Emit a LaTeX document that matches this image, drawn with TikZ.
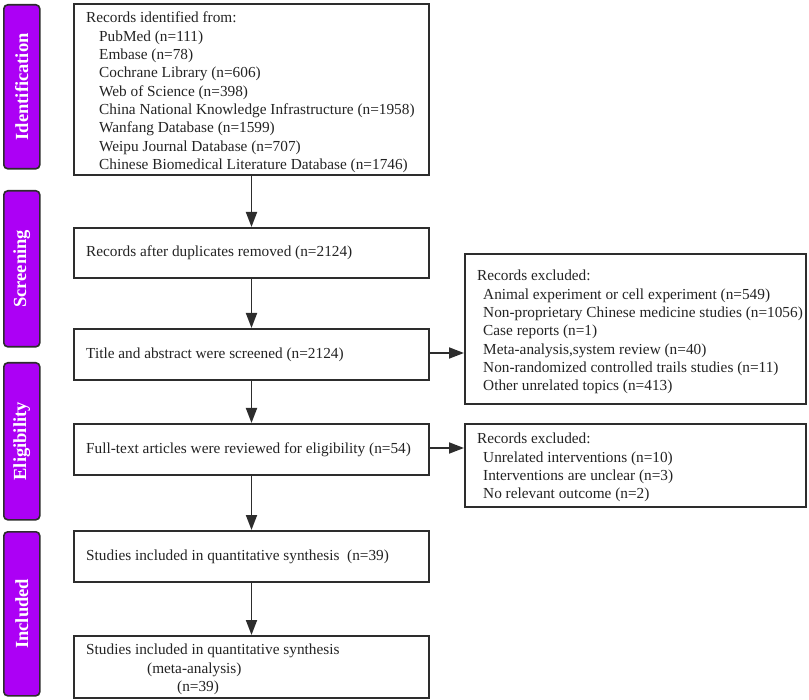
\documentclass[tikz,border=0pt]{standalone}
\usepackage{fontspec}
\setmainfont{Liberation Serif}
\usetikzlibrary{arrows.meta}
\definecolor{sidefill}{RGB}{172,0,245}
\definecolor{ln}{RGB}{45,45,45}
\definecolor{txtc}{RGB}{35,35,35}
\begin{document}
\begin{tikzpicture}[x=1pt,y=-1pt,
 box/.style={draw=ln,line width=2pt,anchor=north west,inner sep=0pt},
 sidebox/.style={draw=ln,line width=1.6pt,fill=sidefill,rounded corners=4pt,anchor=north west,inner sep=0pt,minimum width=36pt},
 sidelabel/.style={text=white,font=\fontsize{18.5}{18.5}\selectfont\bfseries,rotate=90},
 txt/.style={anchor=north west,inner sep=0pt,align=left,font=\fontsize{15.3}{18.3}\selectfont,text=txtc},
 line/.style={anchor=west,inner sep=0pt,font=\fontsize{15.3}{18.3}\selectfont,text=txtc},
 arr/.style={draw=ln,line width=1.8pt,-{Triangle[length=15pt,width=11pt]}}]
\useasboundingbox (0,0) rectangle (809,700);

% side bars
\node[sidebox,minimum height=164pt] (s1) at (3,4) {};
\node[sidelabel] (l1) at (s1.center) {Identification};
\node[sidebox,minimum height=156pt] (s2) at (3,190) {};
\node[sidelabel] (l2) at (s2.center) {Screening};
\node[sidebox,minimum height=157pt] (s3) at (3,362) {};
\node[sidelabel] (l3) at (s3.center) {Eligibility};
\node[sidebox,minimum height=164pt] (s4) at (3,531) {};
\node[sidelabel] (l4) at (s4.center) {Included};

% main boxes
\node[box,minimum width=355pt,minimum height=171pt] (b1) at (73,3) {};
\node[txt] (t1) at (86,12) {Records identified from:\\
\hspace*{13pt}PubMed (n=111)\\
\hspace*{13pt}Embase (n=78)\\
\hspace*{13pt}Cochrane Library (n=606)\\
\hspace*{13pt}Web of Science (n=398)\\
\hspace*{13pt}China National Knowledge Infrastructure (n=1958)\\
\hspace*{13pt}Wanfang Database (n=1599)\\
\hspace*{13pt}Weipu Journal Database (n=707)\\
\hspace*{13pt}Chinese Biomedical Literature Database (n=1746)};

\node[box,minimum width=355pt,minimum height=50pt] (b2) at (73,227) {};
\node[line] (t2) at ([xshift=13pt]b2.west) {Records after duplicates removed (n=2124)};

\node[box,minimum width=355pt,minimum height=51pt] (b3) at (73,328) {};
\node[line] (t3) at ([xshift=13pt]b3.west) {Title and abstract were screened (n=2124)};

\node[box,minimum width=355pt,minimum height=51pt] (b4) at (73,423) {};
\node[line] (t4) at ([xshift=13pt]b4.west) {Full-text articles were reviewed for eligibility (n=54)};

\node[box,minimum width=355pt,minimum height=51pt] (b5) at (73,530) {};
\node[line] (t5) at ([xshift=13pt]b5.west) {Studies included in quantitative synthesis\ \ (n=39)};

\node[box,minimum width=355pt,minimum height=62pt] (b6) at (73,635) {};
\node[txt] (t6) at (86,644) {Studies included in quantitative synthesis\\
\hspace*{61pt}(meta-analysis)\\
\hspace*{91pt}(n=39)};

% excluded boxes
\node[box,minimum width=341pt,minimum height=150pt] (e1) at (464,253) {};
\node[txt] (te1) at (477,270) {Records excluded:\\
\hspace*{6pt}Animal experiment or cell experiment (n=549)\\
\hspace*{6pt}Non-proprietary Chinese medicine studies (n=1056)\\
\hspace*{6pt}Case reports (n=1)\\
\hspace*{6pt}Meta-analysis,system review (n=40)\\
\hspace*{6pt}Non-randomized controlled trails studies (n=11)\\
\hspace*{6pt}Other unrelated topics (n=413)};

\node[box,minimum width=341pt,minimum height=83pt] (e2) at (464,423) {};
\node[txt] (te2) at (477,433) {Records excluded:\\
\hspace*{6pt}Unrelated interventions (n=10)\\
\hspace*{6pt}Interventions are unclear (n=3)\\
\hspace*{6pt}No relevant outcome (n=2)};

% arrows
\draw[arr] (b1) -- (b2);
\draw[arr] (b2) -- (b3);
\draw[arr] (b3) -- (b4);
\draw[arr] (b4) -- (b5);
\draw[arr] (b5) -- (b6);
\draw[arr] ([yshift=1.5pt]b3.east) -- ([yshift=1.5pt]b3.east -| e1.west);
\draw[arr] ([yshift=1.5pt]b4.east) -- ([yshift=1.5pt]b4.east -| e2.west);
\end{tikzpicture}
\end{document}
